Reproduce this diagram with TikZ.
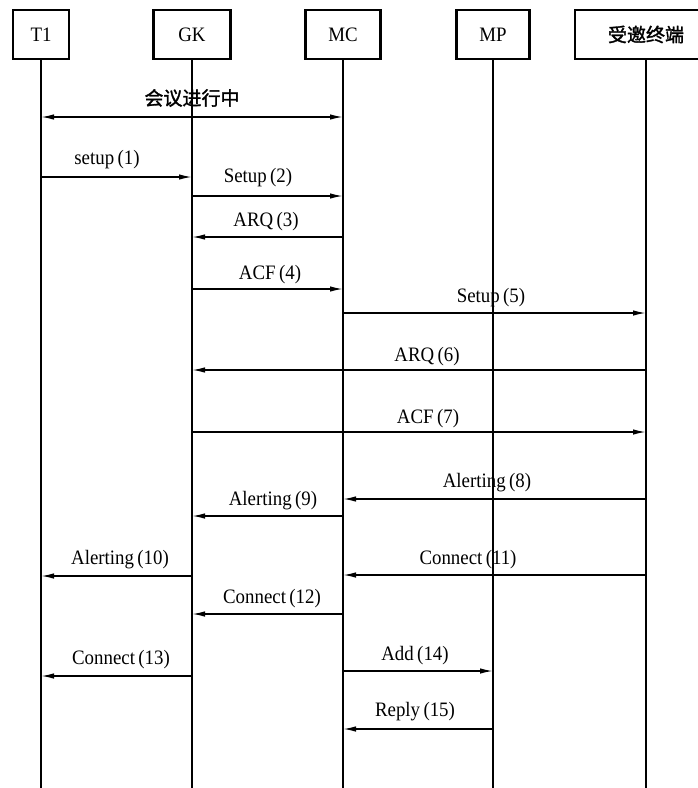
\documentclass[tikz,border=0pt]{standalone}
\usepackage{fontspec}
\setmainfont{Liberation Serif}[FakeStretch=0.92]
\newfontfamily\cjk{Noto Sans CJK SC}[FakeBold=1.6]
\usetikzlibrary{arrows.meta}
\begin{document}
\begin{tikzpicture}[x=1pt,y=-1pt,
  box/.style={draw, line width=2.2pt, minimum height=49pt, inner sep=0pt, font=\fontsize{20.5}{22}\selectfont},
  life/.style={line width=2pt},
  msg/.style={line width=1.5pt, -{Latex[length=13pt,width=5.5pt]}},
  dmsg/.style={line width=1.5pt, {Latex[length=13pt,width=5.5pt]}-{Latex[length=13pt,width=5.5pt]}},
  lbl/.style={font=\fontsize{20.5}{22}\selectfont, inner sep=0pt},
  clbl/.style={font=\cjk\fontsize{19}{21}\selectfont, inner sep=0pt}]
\useasboundingbox (0,0) rectangle (698,788);
\clip (0,0) rectangle (698,788);
\fill[white] (0,0) rectangle (698,788);
% participants
\node[box, minimum width=56pt] (T1) at (41,34.5) {T1};
\node[box, minimum width=77pt] (GK) at (192,34.5) {GK};
\node[box, minimum width=75pt] (MC) at (343,34.5) {MC};
\node[box, minimum width=73pt] (MP) at (493,34.5) {MP};
\node[box, minimum width=142pt, font=\cjk\fontsize{19}{21}\selectfont] (TE) at (646,34.5) {受邀终端};
% lifelines
\draw[life] (T1.south) -- (T1 |- 0,790);
\draw[life] (GK.south) -- (GK |- 0,790);
\draw[life] (MC.south) -- (MC |- 0,790);
\draw[life] (MP.south) -- (MP |- 0,790);
\draw[life] (TE.south) -- (TE |- 0,790);
% conference in progress
\draw[dmsg] (T1 |- 0,117) -- (MC |- 0,117);
\node[clbl] (l0) at (192,98) {会议进行中};
% messages
\draw[msg] (T1 |- 0,177) -- (GK |- 0,177);
\node[lbl] (l1) at (107,160) {setup\,(1)};
\draw[msg] (GK |- 0,196) -- (MC |- 0,196);
\node[lbl] (l2) at (258,178) {Setup\,(2)};
\draw[msg] (MC |- 0,237) -- (GK |- 0,237);
\node[lbl] (l3) at (266,222) {ARQ\,(3)};
\draw[msg] (GK |- 0,289) -- (MC |- 0,289);
\node[lbl] (l4) at (270,275) {ACF\,(4)};
\draw[msg] (MC |- 0,313) -- (TE |- 0,313);
\node[lbl] (l5) at (491,298) {Setup\,(5)};
\draw[msg] (TE |- 0,370) -- (GK |- 0,370);
\node[lbl] (l6) at (427,357) {ARQ\,(6)};
\draw[msg] (GK |- 0,432) -- (TE |- 0,432);
\node[lbl] (l7) at (428,419) {ACF\,(7)};
\draw[msg] (TE |- 0,499) -- (MC |- 0,499);
\node[lbl] (l8) at (487,483) {Alerting\,(8)};
\draw[msg] (MC |- 0,516) -- (GK |- 0,516);
\node[lbl] (l9) at (273,501) {Alerting\,(9)};
\draw[msg] (GK |- 0,576) -- (T1 |- 0,576);
\node[lbl] (l10) at (120,560) {Alerting\,(10)};
\draw[msg] (TE |- 0,575) -- (MC |- 0,575);
\node[lbl] (l11) at (468,560) {Connect\,(11)};
\draw[msg] (MC |- 0,614) -- (GK |- 0,614);
\node[lbl] (l12) at (272,599) {Connect\,(12)};
\draw[msg] (GK |- 0,676) -- (T1 |- 0,676);
\node[lbl] (l13) at (121,660) {Connect\,(13)};
\draw[msg] (MC |- 0,671) -- (MP |- 0,671);
\node[lbl] (l14) at (415,656) {Add\,(14)};
\draw[msg] (MP |- 0,729) -- (MC |- 0,729);
\node[lbl] (l15) at (415,712) {Reply\,(15)};
\end{tikzpicture}
\end{document}
